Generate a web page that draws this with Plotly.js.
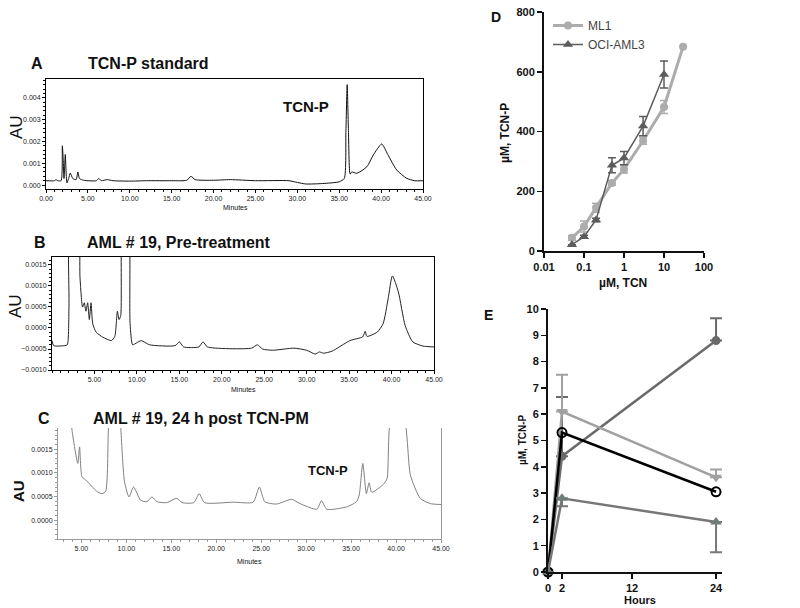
<!DOCTYPE html>
<html>
<head>
<meta charset="utf-8">
<script src="https://cdn.plot.ly/plotly-3.0.1.min.js"></script>
<style>html,body{margin:0;padding:0;background:#fff;}#chart{width:800px;height:608px;}</style>
</head>
<body>
<div id="chart"></div>
<script>
// ---- Panel A: TCN-P standard chromatogram ----
const aTime = [0,1.0,1.2,1.4,1.8,1.95,2.05,2.15,2.3,2.4,2.5,2.7,2.9,3.2,3.6,3.8,4.0,4.5,6.0,6.3,6.6,7.3,8,10,12,15,16.8,17.3,17.8,20,22,25,29,30,31,33,35,35.6,35.8,35.95,36.1,36.3,36.5,37.1,38.3,39.07,40.07,40.8,41.86,43.05,44,45];
const aAU = [0.0002,0.0002,0.00025,0.0002,0.0002,0.0018,0.0012,0.0003,0.0014,0.0006,0.0001,0.0003,0.00055,0.0003,0.00025,0.0006,0.0003,0.00022,0.0002,0.0003,0.0002,0.00025,0.0002,0.00018,0.0002,0.0002,0.00022,0.0004,0.00025,0.00022,0.00025,0.0002,0.0002,0.00012,0.00005,0.00007,0.00015,0.0003,0.0025,0.0046,0.0025,0.0005,0.0006,0.00054,0.00084,0.00138,0.00188,0.0014,0.00069,0.00031,0.0002,0.0002];

// ---- Panel B: AML #19 pre-treatment ----
const bTime = [0,0.2,1.5,1.8,2.0,2.2,3.0,3.3,3.6,3.8,4.0,4.2,4.4,4.6,4.8,5.2,6,7,7.4,7.7,7.9,8.1,8.4,8.9,9.2,9.5,10,10.5,11.5,14.5,15.0,15.5,17.3,17.8,18.3,23.5,24.2,24.8,26,28.5,30,31,31.5,32,33,35.1,36.6,36.9,37.1,38.3,39.0,39.6,40.1,40.8,41.6,42.5,43.7,45];
const bAU = [-0.0003,-0.00042,-0.00042,-0.0004,0.0005,0.003,0.003,0.0012,0.0005,0.0006,0.0004,0.0006,0.0002,0.0006,0.0001,-0.0001,-0.00022,-0.0003,-0.0002,0.0004,0.0002,0.0003,0.003,0.003,0.0001,-0.0004,-0.00035,-0.0003,-0.0004,-0.00042,-0.00033,-0.00045,-0.00045,-0.00033,-0.00045,-0.00048,-0.0004,-0.0005,-0.00053,-0.00048,-0.00053,-0.00062,-0.00057,-0.0006,-0.00055,-0.0003,-0.00021,-0.00008,-0.0002,-0.0001,0.0001,0.0007,0.00124,0.00086,0.00006,-0.00033,-0.00043,-0.00045];

// ---- Panel C: AML #19, 24 h post TCN-PM ----
const cTime = [3.7,3.96,4.6,4.8,5.07,5.6,6.7,7.3,7.7,8.0,8.3,9.1,9.4,9.8,10.3,10.8,11.6,12.3,12.85,13.4,14.5,15.6,16.2,17.5,18.1,18.7,21.9,24.1,24.8,25.4,26.7,28.4,29.3,31.2,31.7,32.3,34.5,35.6,35.9,36.3,36.7,37.0,37.3,38.6,39.0,39.5,40.8,41.6,42.7,43.8,45];
const cAU = [0.0025,0.0019,0.0012,0.00155,0.00092,0.00083,0.00061,0.00056,0.00061,0.0019,0.003,0.003,0.0019,0.00081,0.00049,0.0007,0.00042,0.00039,0.00049,0.00039,0.00037,0.00046,0.00037,0.00037,0.00056,0.00037,0.00038,0.00038,0.0007,0.00039,0.00034,0.00044,0.00035,0.00023,0.00041,0.00023,0.00028,0.00039,0.00053,0.0012,0.00056,0.00079,0.00059,0.00076,0.00088,0.0022,0.0022,0.00095,0.00046,0.00035,0.00033];

// ---- Panel D: TCN-P vs TCN ----
const dConcML1 = [0.05,0.1,0.2,0.5,1,3,10,30];
const ml1 = [44,82,145,228,273,369,482,684];
const ml1Err = [8,18,15,8,12,12,22,0];
const dConcOCI = [0.05,0.1,0.2,0.5,1,3,10];
const oci = [21,48,104,287,311,418,591];
const ociErr = [0,5,6,25,22,32,45];
const dTickVals = [0.01,0.1,1,10,100];
const dTickText = ['0.01','0.1','1','10','100'];

// ---- Panel E: patient TCN-P over time ----
const eHours = [0,2,24];
const e65 = [0,4.4,8.8];
const e65Up = [0,2.25,0.85];
const e35 = [0,6.1,3.6];
const e35Up = [0,1.4,0.3];
const e15 = [0,5.3,3.05];
const e25 = [0,2.8,1.9];
const e25Down = [0,0.3,1.15];
const eLabels = ['65 mg/m²','35 mg/m²','15 mg/m²','25 mg/m²'];
const eTickVals = [0,2,12,24];

const FONT = 'Liberation Sans, Arial, sans-serif';
const P = (px) => px / 800;
const Q = (py) => 1 - py / 608;

const traces = [
  {x: aTime, y: aAU, xaxis: 'x', yaxis: 'y', mode: 'lines', line: {color: '#111', width: 1, shape: 'spline', smoothing: 0.6}, showlegend: false, hoverinfo: 'skip'},
  {x: bTime, y: bAU, xaxis: 'x2', yaxis: 'y2', mode: 'lines', line: {color: '#222', width: 1, shape: 'spline', smoothing: 0.6}, showlegend: false, hoverinfo: 'skip'},
  {x: cTime, y: cAU, xaxis: 'x3', yaxis: 'y3', mode: 'lines', line: {color: '#808080', width: 1, shape: 'spline', smoothing: 0.6}, showlegend: false, hoverinfo: 'skip'},
  {x: dConcML1, y: ml1, xaxis: 'x4', yaxis: 'y4', mode: 'lines+markers', name: 'ML1',
   line: {color: '#acacac', width: 3}, marker: {symbol: 'circle', size: 8, color: '#acacac'},
   error_y: {type: 'data', array: ml1Err, color: '#acacac', thickness: 1.5, width: 4}, cliponaxis: false},
  {x: dConcOCI, y: oci, xaxis: 'x4', yaxis: 'y4', mode: 'lines+markers', name: 'OCI-AML3',
   line: {color: '#5c5c5c', width: 1.5}, marker: {symbol: 'triangle-up', size: 9, color: '#5c5c5c'},
   error_y: {type: 'data', array: ociErr, color: '#5c5c5c', thickness: 1.5, width: 4}, cliponaxis: false},
  {x: eHours, y: e65, xaxis: 'x5', yaxis: 'y5', mode: 'lines+markers', showlegend: false,
   line: {color: '#6a6a6a', width: 2.5}, marker: {symbol: 'circle', size: 9, color: '#6a6a6a'},
   error_y: {type: 'data', symmetric: false, array: e65Up, arrayminus: [0,0,0], color: '#6a6a6a', thickness: 2, width: 6}, cliponaxis: false},
  {x: eHours, y: e35, xaxis: 'x5', yaxis: 'y5', mode: 'lines+markers', showlegend: false,
   line: {color: '#a0a0a0', width: 2.5}, marker: {symbol: 'triangle-down', size: 10, color: '#a0a0a0'},
   error_y: {type: 'data', symmetric: false, array: e35Up, arrayminus: [0,0,0], color: '#a0a0a0', thickness: 2, width: 6}, cliponaxis: false},
  {x: eHours, y: e15, xaxis: 'x5', yaxis: 'y5', mode: 'lines+markers', showlegend: false,
   line: {color: '#000', width: 2.5}, marker: {symbol: 'circle-open', size: 9, color: '#000', line: {width: 2}}, cliponaxis: false},
  {x: eHours, y: e25, xaxis: 'x5', yaxis: 'y5', mode: 'lines+markers', showlegend: false,
   line: {color: '#777', width: 2.5}, marker: {symbol: 'triangle-up', size: 10, color: '#6f7d77'},
   error_y: {type: 'data', symmetric: false, array: [0,0,0], arrayminus: e25Down, color: '#777', thickness: 2, width: 6}, cliponaxis: false}
];

const chromTick = {family: FONT, size: 7, color: '#222'};
function chromX(domain, range, tickvals, col, anchor) {
  return {domain: domain, range: range, tickvals: tickvals, tickformat: '.2f', tickfont: chromTick,
    ticks: 'outside', ticklen: 3, tickcolor: col, showline: true, linecolor: col, linewidth: 1,
    mirror: col === '#000' ? true : false, showgrid: false, zeroline: false, anchor: anchor,
    minor: {ticks: 'outside', ticklen: 2, dtick: 1, tickcolor: col, showgrid: false}};
}
function chromY(domain, range, tickvals, fmt, col, anchor, mdt) {
  return {domain: domain, range: range, tickvals: tickvals, tickformat: fmt, tickfont: chromTick,
    ticks: 'outside', ticklen: 3, tickcolor: col, showline: true, linecolor: col, linewidth: 1,
    mirror: true, showgrid: false, zeroline: false, anchor: anchor,
    minor: {ticks: 'outside', ticklen: 2, dtick: mdt, tickcolor: col, showgrid: false}};
}

const boldTick = {family: FONT, size: 11, color: '#111', weight: 'bold'};

const layout = {
  width: 800, height: 608, autosize: false,
  margin: {l: 0, r: 0, t: 0, b: 0},
  paper_bgcolor: '#fff', plot_bgcolor: 'rgba(0,0,0,0)',
  font: {family: FONT},
  xaxis: chromX([P(46), P(423)], [0, 45], [0,5,10,15,20,25,30,35,40,45], '#000', 'y'),
  yaxis: chromY([Q(189), Q(79)], [-0.00018, 0.00486], [0,0.001,0.002,0.003,0.004], '.3f', '#000', 'x', 0.0002),
  xaxis2: chromX([P(52), P(434)], [0, 45], [5,10,15,20,25,30,35,40,45], '#000', 'y2'),
  yaxis2: chromY([Q(370), Q(257)], [-0.001, 0.00169], [-0.001,-0.0005,0,0.0005,0.001,0.0015], '.4f', '#000', 'x2', 0.0001),
  xaxis3: chromX([P(58), P(441)], [2.4, 45], [5,10,15,20,25,30,35,40,45], '#999', 'y3'),
  yaxis3: chromY([Q(539), Q(428)], [-0.0004, 0.00195], [0,0.0005,0.001,0.0015], '.4f', '#999', 'x3', 0.0001),
  xaxis4: {domain: [P(544), P(704)], type: 'log', range: [-2, 2], tickvals: dTickVals, ticktext: dTickText,
    tickfont: boldTick, ticks: 'outside', ticklen: 5, tickwidth: 1.5, tickcolor: '#111', showline: true, linecolor: '#111', linewidth: 2,
    showgrid: false, zeroline: false, anchor: 'y4'},
  yaxis4: {domain: [Q(251), Q(12)], range: [0, 800], tickvals: [0,200,400,600,800],
    tickfont: boldTick, ticks: 'outside', ticklen: 5, tickwidth: 1.5, tickcolor: '#111', showline: true, linecolor: '#111', linewidth: 2,
    showgrid: false, zeroline: false, anchor: 'x4'},
  xaxis5: {domain: [P(548), P(722)], range: [0, 24.85], tickvals: eTickVals,
    tickfont: boldTick, ticks: 'outside', ticklen: 5, tickwidth: 1.5, tickcolor: '#111', showline: true, linecolor: '#111', linewidth: 2,
    showgrid: false, zeroline: false, anchor: 'y5'},
  yaxis5: {domain: [Q(572), Q(309)], range: [0, 10], tickvals: [0,1,2,3,4,5,6,7,8,9,10],
    tickfont: boldTick, ticks: 'outside', ticklen: 5, tickwidth: 1.5, tickcolor: '#111', showline: true, linecolor: '#111', linewidth: 2,
    showgrid: false, zeroline: false, anchor: 'x5'},
  legend: {x: P(548), y: Q(11), xanchor: 'left', yanchor: 'top', bgcolor: 'rgba(0,0,0,0)',
    font: {family: FONT, size: 12, color: '#444'}, itemwidth: 30, tracegroupgap: 0},
  annotations: []
};

function ann(text, px, py, size, bold, extra) {
  return Object.assign({text: text, xref: 'paper', yref: 'paper', x: P(px), y: Q(py), showarrow: false,
    xanchor: 'left', yanchor: 'middle', font: {family: FONT, size: size, color: '#111', weight: bold ? 'bold' : 'normal'}}, extra || {});
}
const A = layout.annotations;
A.push(ann('A', 29, 63, 16, true));
A.push(ann('TCN-P standard', 86, 63, 16, true));
A.push(ann('B', 32, 242, 16, true));
A.push(ann('AML # 19, Pre-treatment', 85, 242, 16, true));
A.push(ann('C', 36, 418, 16, true));
A.push(ann('AML # 19, 24 h post TCN-PM', 91, 418, 16, true));
A.push(ann('D', 496, 17, 14, true, {xanchor: 'center'}));
A.push(ann('E', 489, 315, 14, true, {xanchor: 'center'}));
A.push(ann('AU', 17, 127, 17, false, {xanchor: 'center', textangle: -90}));
A.push(ann('AU', 15, 306, 17, false, {xanchor: 'center', textangle: -90}));
A.push(ann('AU', 18, 491, 15, true, {xanchor: 'center', textangle: -90}));
A.push(ann('Minutes', 235, 207, 7, false, {xanchor: 'center'}));
A.push(ann('Minutes', 243, 389, 7, false, {xanchor: 'center'}));
A.push(ann('Minutes', 249, 561, 7, false, {xanchor: 'center'}));
A.push({text: 'TCN-P', xref: 'x', yref: 'y', x: 31, y: 0.0036, showarrow: false, xanchor: 'center', yanchor: 'middle',
  font: {family: FONT, size: 15, color: '#111', weight: 'bold'}});
A.push({text: 'TCN-P', xref: 'x3', yref: 'y3', x: 32.4, y: 0.00104, showarrow: false, xanchor: 'center', yanchor: 'middle',
  font: {family: FONT, size: 13, color: '#111', weight: 'bold'}});
A.push(ann('µM, TCN', 623, 283, 12, true, {xanchor: 'center'}));
A.push(ann('µM, TCN-P', 505, 133, 12, true, {xanchor: 'center', textangle: -90}));
A.push(ann('Hours', 640, 600, 11, true, {xanchor: 'center'}));
A.push(ann('µM, TCN-P', 522, 440, 10, true, {xanchor: 'center', textangle: -90}));
const eLabelPos = [[26, 8.87], [25.85, 3.72], [26.1, 3.0], [26.3, 2.08]];
eLabels.forEach((t, i) => {
  A.push({text: t, xref: 'x5', yref: 'y5', x: eLabelPos[i][0], y: eLabelPos[i][1], showarrow: false,
    xanchor: 'left', yanchor: 'middle', font: {family: FONT, size: 13, color: '#111', weight: 'bold'}});
});

Plotly.newPlot('chart', traces, layout, {staticPlot: true, displayModeBar: false});
</script>
</body>
</html>
